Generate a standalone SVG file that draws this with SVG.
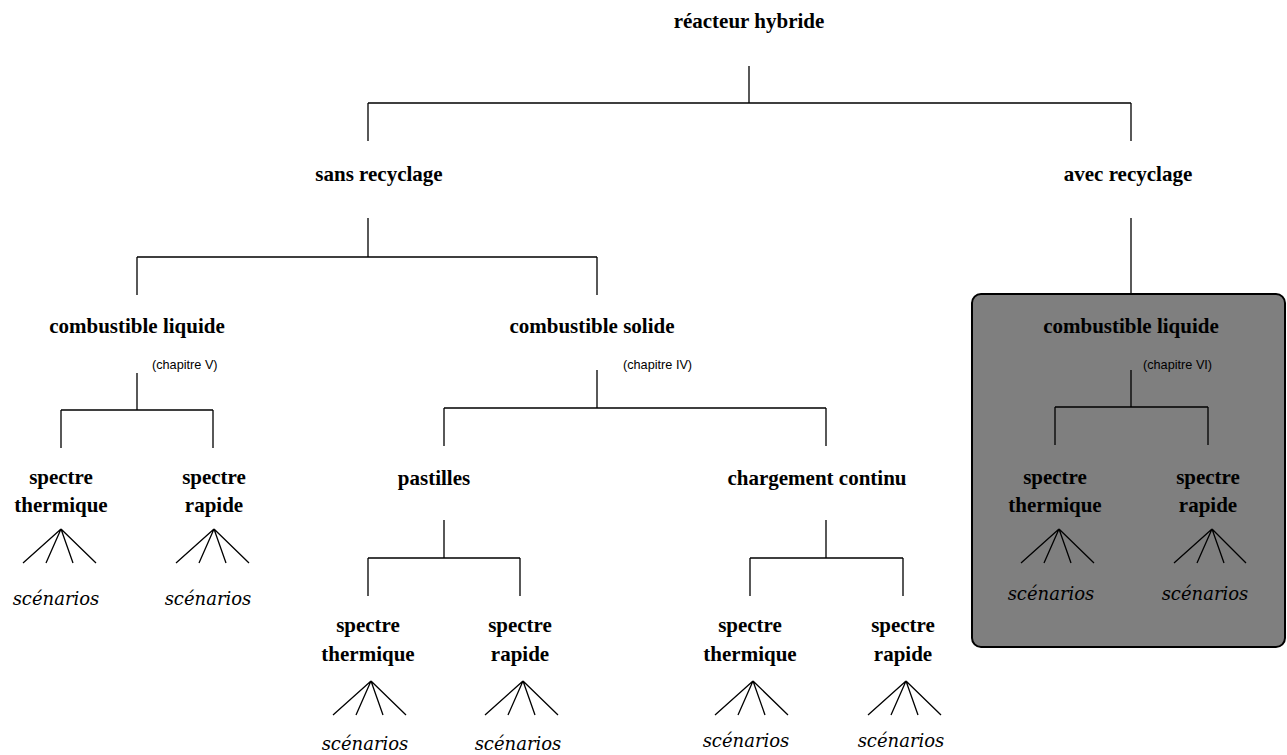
<svg xmlns="http://www.w3.org/2000/svg" width="1287" height="755" viewBox="0 0 1287 755">
<style>
.t{font-family:"Liberation Serif","Times New Roman",serif;font-weight:bold;font-size:21px;text-anchor:middle;fill:#000}
.c{font-family:"Liberation Sans",Arial,sans-serif;font-size:12.7px;fill:#000}
.s{font-family:"DejaVu Serif",serif;font-style:italic;font-size:18px;text-anchor:middle;fill:#000}
.ln{stroke:#000;stroke-width:1.3;fill:none}
</style>
<rect width="1287" height="755" fill="#fff"/>
<g id="box"><rect x="972" y="294" width="313" height="353" rx="9" ry="9" fill="#7f7f7f" stroke="#000" stroke-width="2"/></g>
<g id="connectors" class="ln">
<path d="M749 66V103M368 103H1131M368 103V141M1131 103V141"/>
<path d="M368 218V257M137 257H597M137 257V295M597 257V295"/>
<path d="M1131 218V294"/>
<path d="M137 373V410M61 410H213M61 410V448M213 410V448"/>
<path d="M597 370V408M444 408H826M444 408V446M826 408V446"/>
<path d="M444 520V558M368 558H520M368 558V596M520 558V596"/>
<path d="M826 520V558M750 558H903M750 558V596M903 558V596"/>
<path d="M1131 370V407M1055 407H1208M1055 407V445M1208 407V445"/>
<path d="M61 529L23 563M61 529L46 563M61 529L73 563M61 529L96 563"/>
<path d="M214 529L176 563M214 529L199 563M214 529L226 563M214 529L249 563"/>
<path d="M1059 529L1021 563M1059 529L1044 563M1059 529L1071 563M1059 529L1094 563"/>
<path d="M1212 529L1174 563M1212 529L1197 563M1212 529L1224 563M1212 529L1246 563"/>
<path d="M371 681L333 715M371 681L356 715M371 681L383 715M371 681L406 715"/>
<path d="M523 681L485 715M523 681L508 715M523 681L535 715M523 681L558 715"/>
<path d="M753 681L715 715M753 681L738 715M753 681L765 715M753 681L788 715"/>
<path d="M906 681L868 715M906 681L891 715M906 681L918 715M906 681L941 715"/>
</g>
<g id="n-reacteur"><text class="t" x="749" y="28">réacteur hybride</text></g>
<g id="n-sans"><text class="t" x="379" y="181">sans recyclage</text></g>
<g id="n-avec"><text class="t" x="1128" y="181">avec recyclage</text></g>
<g id="n-liq1"><text class="t" x="137" y="333">combustible liquide</text><text class="c" x="152" y="369">(chapitre V)</text></g>
<g id="n-sol"><text class="t" x="592" y="333">combustible solide</text><text class="c" x="623" y="369">(chapitre IV)</text></g>
<g id="n-liq2"><text class="t" x="1131" y="333">combustible liquide</text><text class="c" x="1143" y="369">(chapitre VI)</text></g>
<g id="n-st1"><text class="t" x="61" y="484">spectre</text><text class="t" x="61" y="512">thermique</text><text class="s" x="56" y="605">scénarios</text></g>
<g id="n-sr1"><text class="t" x="214" y="484">spectre</text><text class="t" x="214" y="512">rapide</text><text class="s" x="208" y="605">scénarios</text></g>
<g id="n-past"><text class="t" x="434" y="485">pastilles</text></g>
<g id="n-charg"><text class="t" x="817" y="485">chargement continu</text></g>
<g id="n-st2"><text class="t" x="368" y="632">spectre</text><text class="t" x="368" y="661">thermique</text><text class="s" x="365" y="750">scénarios</text></g>
<g id="n-sr2"><text class="t" x="520" y="632">spectre</text><text class="t" x="520" y="661">rapide</text><text class="s" x="518" y="750">scénarios</text></g>
<g id="n-st3"><text class="t" x="750" y="632">spectre</text><text class="t" x="750" y="661">thermique</text><text class="s" x="746" y="747">scénarios</text></g>
<g id="n-sr3"><text class="t" x="903" y="632">spectre</text><text class="t" x="903" y="661">rapide</text><text class="s" x="901" y="747">scénarios</text></g>
<g id="n-st4"><text class="t" x="1055" y="484">spectre</text><text class="t" x="1055" y="512">thermique</text><text class="s" x="1051" y="600">scénarios</text></g>
<g id="n-sr4"><text class="t" x="1208" y="484">spectre</text><text class="t" x="1208" y="512">rapide</text><text class="s" x="1205" y="600">scénarios</text></g>
</svg>
